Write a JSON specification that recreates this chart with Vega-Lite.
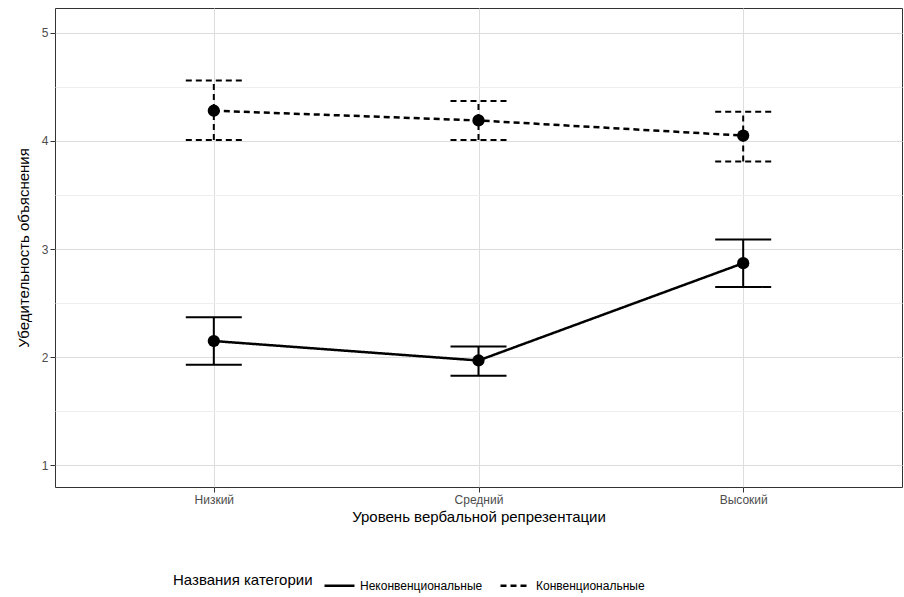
{
  "$schema": "https://vega.github.io/schema/vega-lite/v6.json",
  "width": 847,
  "height": 479,
  "autosize": "none",
  "padding": {"left": 55, "top": 8, "right": 2, "bottom": 110},
  "background": "white",
  "config": {
    "font": "Liberation Sans",
    "view": {"stroke": "#333333", "strokeWidth": 1}
  },
  "data": {
    "values": [
      {"level": "Низкий", "cat": "Неконвенциональные", "mean": 2.15, "lo": 1.93, "hi": 2.37},
      {"level": "Средний", "cat": "Неконвенциональные", "mean": 1.97, "lo": 1.83, "hi": 2.10},
      {"level": "Высокий", "cat": "Неконвенциональные", "mean": 2.87, "lo": 2.65, "hi": 3.09},
      {"level": "Низкий", "cat": "Конвенциональные", "mean": 4.28, "lo": 4.01, "hi": 4.56},
      {"level": "Средний", "cat": "Конвенциональные", "mean": 4.19, "lo": 4.01, "hi": 4.37},
      {"level": "Высокий", "cat": "Конвенциональные", "mean": 4.05, "lo": 3.81, "hi": 4.27}
    ]
  },
  "encoding": {
    "x": {
      "field": "level", "type": "ordinal",
      "sort": ["Низкий", "Средний", "Высокий"],
      "scale": {"type": "point", "padding": 0.6},
      "axis": {
        "title": "Уровень вербальной репрезентации",
        "titleFontSize": 15, "titleFontWeight": "normal", "titleColor": "black",
        "labelFontSize": 12, "labelColor": "#4d4d4d", "labelAngle": 0,
        "grid": true, "gridColor": "#dddddd", "domain": false, "tickColor": "#333333"
      }
    },
    "y": {
      "field": "mean", "type": "quantitative",
      "scale": {"domain": [0.8, 5.23], "nice": false, "zero": false},
      "axis": {
        "title": "Убедительность объяснения", "titlePadding": 10,
        "titleFontSize": 15, "titleFontWeight": "normal", "titleColor": "black",
        "labelFontSize": 12, "labelColor": "#4d4d4d",
        "values": [1, 1.5, 2, 2.5, 3, 3.5, 4, 4.5, 5],
        "labelExpr": "datum.value % 1 == 0 ? format(datum.value, 'd') : ''",
        "gridColor": {"condition": {"test": "datum.value % 1 != 0", "value": "#eeeeee"}, "value": "#dddddd"},
        "tickOpacity": {"condition": {"test": "datum.value % 1 != 0", "value": 0}, "value": 1},
        "tickColor": "#333333", "domain": false
      }
    },
    "strokeDash": {
      "field": "cat", "type": "nominal",
      "sort": ["Неконвенциональные", "Конвенциональные"],
      "scale": {"domain": ["Неконвенциональные", "Конвенциональные"], "range": [[1, 0], [6, 4]]},
      "legend": {
        "title": "Названия категории", "orient": "none", "direction": "horizontal",
        "legendX": 118, "legendY": 561,
        "titleFontSize": 15, "titleFontWeight": "normal", "titleColor": "black",
        "titleOrient": "left", "titlePadding": 10, "labelFontSize": 12, "labelColor": "black",
        "symbolType": "stroke", "symbolStrokeWidth": 2.5, "symbolSize": 900,
        "symbolStrokeColor": "black", "symbolFillColor": "black", "columnPadding": 12
      }
    }
  },
  "layer": [
    {"mark": {"type": "line", "color": "black", "strokeWidth": 2.5}},
    {"mark": {"type": "rule", "color": "black", "strokeWidth": 2}, "encoding": {"y": {"field": "lo", "type": "quantitative"}, "y2": {"field": "hi"}}},
    {"mark": {"type": "rule", "color": "black", "strokeWidth": 2, "xOffset": -28, "x2Offset": 28}, "encoding": {"x2": {"field": "level"}, "y": {"field": "lo", "type": "quantitative"}}},
    {"mark": {"type": "rule", "color": "black", "strokeWidth": 2, "xOffset": -28, "x2Offset": 28}, "encoding": {"x2": {"field": "level"}, "y": {"field": "hi", "type": "quantitative"}}},
    {"mark": {"type": "circle", "color": "black", "size": 150, "opacity": 1}, "encoding": {"strokeDash": null}}
  ]
}
